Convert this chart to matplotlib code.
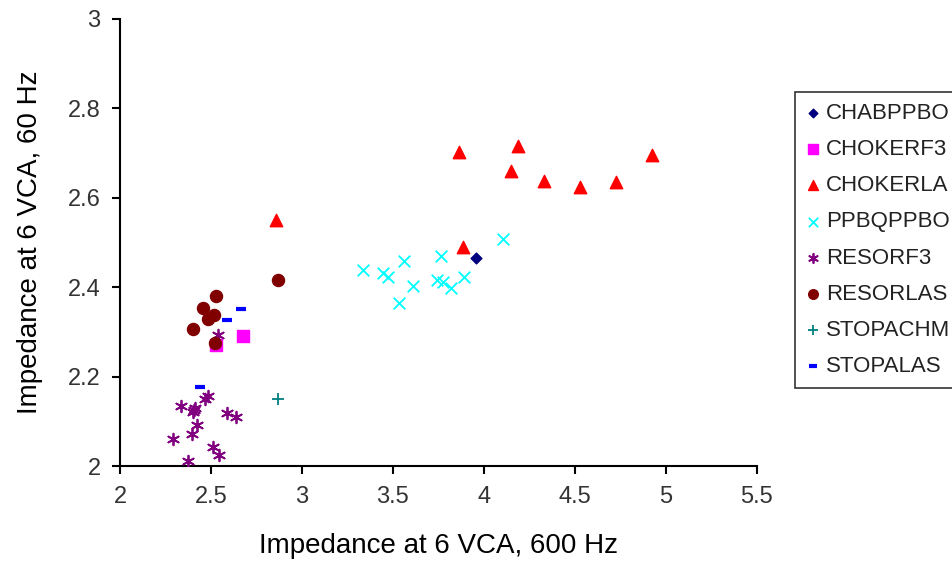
import matplotlib
matplotlib.use('Agg')
import matplotlib.pyplot as plt

plt.rcParams['font.family'] = ['Liberation Sans', 'DejaVu Sans']

# data
chab_x = [3.955]
chab_y = [2.464]

chokerf3_x = [2.674, 2.527]
chokerf3_y = [2.291, 2.271]

chokerla_x = [2.857, 3.864, 4.185, 4.148, 4.333, 4.527, 4.724, 4.923, 3.883]
chokerla_y = [2.551, 2.701, 2.716, 2.660, 2.637, 2.624, 2.636, 2.696, 2.490]

ppbq_x = [3.337, 3.447, 3.475, 3.560, 3.612, 3.533, 3.767, 3.743, 3.776, 3.817, 3.892, 4.106]
ppbq_y = [2.438, 2.432, 2.423, 2.459, 2.403, 2.364, 2.470, 2.416, 2.411, 2.399, 2.423, 2.507]

resorf3_x = [2.537, 2.465, 2.485, 2.335, 2.412, 2.399, 2.405, 2.586, 2.637, 2.425,
             2.394, 2.289, 2.513, 2.544, 2.376]
resorf3_y = [2.293, 2.151, 2.156, 2.134, 2.129, 2.121, 2.126, 2.118, 2.110, 2.092,
             2.072, 2.060, 2.043, 2.025, 2.011]

resorlas_x = [2.527, 2.458, 2.518, 2.485, 2.399, 2.522, 2.866]
resorlas_y = [2.381, 2.353, 2.338, 2.329, 2.306, 2.274, 2.416]

stopachm_x = [2.866]
stopachm_y = [2.150]

stopalas_x = [2.663, 2.586, 2.440]
stopalas_y = [2.351, 2.327, 2.177]

fig = plt.figure(figsize=(9.53, 5.67), dpi=100)
ax = fig.add_axes([0.126, 0.178, 0.668, 0.789])

ax.scatter(chab_x, chab_y, marker='D', s=30, color='#000080', label='CHABPPBO', zorder=3)
ax.scatter(chokerf3_x, chokerf3_y, marker='s', s=70, color='#ff00ff', label='CHOKERF3', zorder=3)
ax.scatter(chokerla_x, chokerla_y, marker='^', s=80, color='#ff0000', label='CHOKERLA', zorder=3)
ax.scatter(ppbq_x, ppbq_y, marker='x', s=70, color='#00ffff', linewidths=1.3,
           label='PPBQPPBO', zorder=3)
ax.scatter(resorf3_x, resorf3_y, marker=(6, 2, 0), s=70, color='#800080', linewidths=1.3,
           label='RESORF3', zorder=3)
ax.scatter(resorlas_x, resorlas_y, marker='o', s=75, color='#800000', label='RESORLAS', zorder=3)
ax.scatter(stopachm_x, stopachm_y, marker='+', s=70, color='#008080', linewidths=1.3,
           label='STOPACHM', zorder=3)
ax.scatter(stopalas_x, stopalas_y, marker='_', s=50, color='#0000ff', linewidths=3,
           label='STOPALAS', zorder=3)

ax.set_xlim(2, 5.5)
ax.set_ylim(2, 3)
ax.set_xticks([2, 2.5, 3, 3.5, 4, 4.5, 5, 5.5])
ax.set_xticklabels(['2', '2.5', '3', '3.5', '4', '4.5', '5', '5.5'])
ax.set_yticks([2, 2.2, 2.4, 2.6, 2.8, 3])
ax.set_yticklabels(['2', '2.2', '2.4', '2.6', '2.8', '3'])

for s in ['top', 'right']:
    ax.spines[s].set_visible(False)
for s in ['left', 'bottom']:
    ax.spines[s].set_linewidth(1.5)
    ax.spines[s].set_color('black')

ax.tick_params(direction='out', length=6, width=1.5, labelsize=17, pad=8,
               labelcolor='#333333')
ax.set_xlabel('Impedance at 6 VCA, 600 Hz', fontsize=20, labelpad=18)
ax.set_ylabel('Impedance at 6 VCA, 60 Hz', fontsize=20, labelpad=18)

leg = fig.legend(loc='upper left', bbox_to_anchor=(795 / 953, 1 - 92 / 567),
                 frameon=True, fancybox=False, fontsize=16, handlelength=0.6,
                 handletextpad=0.3, labelspacing=0.68, borderpad=0.5,
                 borderaxespad=0, markerscale=0.8)
leg.get_frame().set_edgecolor('black')
leg.get_frame().set_linewidth(1.2)
for t in leg.get_texts():
    t.set_color('#222222')

fig.savefig('out.png', dpi=100)
